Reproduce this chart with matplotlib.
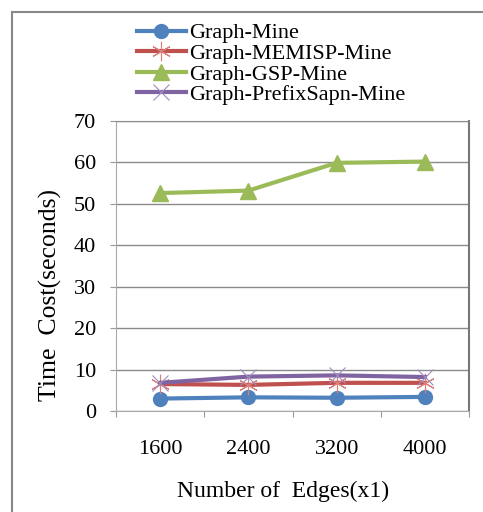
import numpy as np
import matplotlib
matplotlib.use("Agg")
from matplotlib import pyplot as plt
from matplotlib.patches import Rectangle

# data
edges = ["1600", "2400", "3200", "4000"]
graph_mine = [3.0, 3.3, 3.2, 3.4]
memisp_mine = [6.5, 6.3, 6.8, 6.8]
gsp_mine = [52.6, 53.2, 59.9, 60.2]
prefix_mine = [6.8, 8.3, 8.6, 8.2]

plt.rcParams['font.family'] = ['Liberation Serif', 'DejaVu Serif']

fig = plt.figure(figsize=(4.83, 5.12), dpi=100)
ax = fig.add_axes([116/483, 1 - 411/512, (469-116)/483, (411-121)/512])

x = np.arange(len(edges))
ax.plot(x, graph_mine, color='#4F81BD', lw=3, marker='o', ms=10, label='Graph-Mine')
ax.plot(x, memisp_mine, color='#C0504D', lw=3, marker=(6, 2, 0), ms=14, mew=0.8,
        mec='#D9807D', label='Graph-MEMISP-Mine')
ax.plot(x, gsp_mine, color='#9BBB59', lw=3, marker='^', ms=11, label='Graph-GSP-Mine')
ax.plot(x, prefix_mine, color='#8064A2', lw=3, marker='x', ms=12, mew=0.8,
        mec='#A08CC0', label='Graph-PrefixSapn-Mine')

ax.set_xlim(-0.5, 3.5)
ax.set_ylim(0, 70)
ax.set_yticks(range(0, 71, 10))
ax.set_xticks(np.arange(-0.5, 3.6, 1.0))
ax.set_xticklabels([])
ax.set_xticks(x, minor=True)
ax.set_xticklabels(edges, minor=True)
ax.tick_params(axis='x', which='major', length=4.5, color='#999999', direction='out')
ax.tick_params(axis='x', which='minor', length=0, pad=21, labelsize=16)
ax.tick_params(axis='y', length=4.5, color='#999999', pad=10, labelsize=16)
ax.yaxis.grid(True, color='#8a8a8a', lw=1)
ax.set_axisbelow(True)

for s in ['left', 'bottom']:
    ax.spines[s].set_color('#aaaaaa')
ax.spines['top'].set_color('#8a8a8a')
ax.spines['right'].set_color('#777777')
ax.spines['right'].set_linewidth(1.5)

ax.set_ylabel('Time  Cost(seconds)', fontsize=18.5)
ax.yaxis.set_label_coords(-0.153, 0.40)
ax.set_xlabel('Number of  Edges(x1)', fontsize=17)
ax.xaxis.set_label_coords(0.473, -0.242)

leg = fig.legend(loc='upper left', bbox_to_anchor=(128/483, 1 - 14/512),
                 frameon=False, fontsize=16, handlelength=2.2, handletextpad=0.15,
                 labelspacing=0.0, borderaxespad=0)

fig.patches.append(Rectangle((12/483, -0.1), 2, 1.1 - 12/512, transform=fig.transFigure,
                             fill=False, ec='#888888', lw=1.5))

fig.savefig('out.png', dpi=100)
